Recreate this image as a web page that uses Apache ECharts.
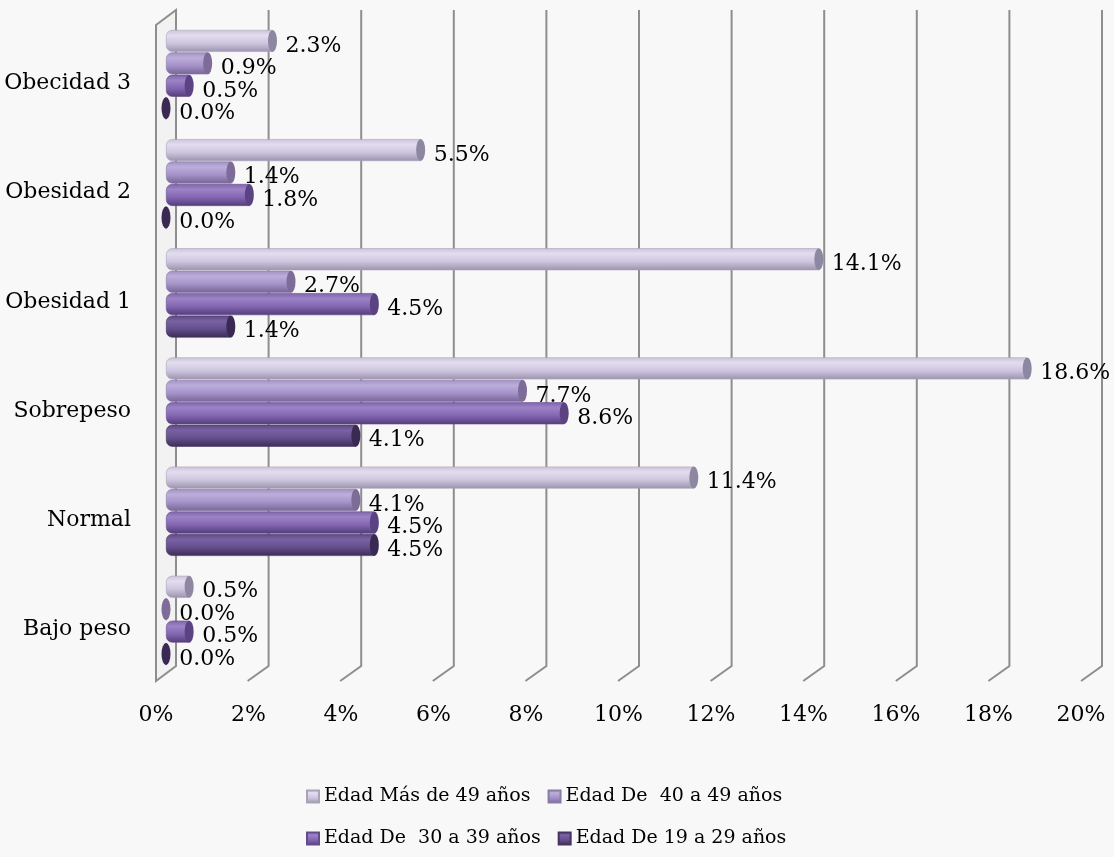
<!DOCTYPE html>
<html>
<head>
<meta charset="utf-8">
<script src="https://cdn.jsdelivr.net/npm/echarts@6/dist/echarts.min.js"></script>
<style>
html,body{margin:0;padding:0;background:#f8f8f8;}
#chart{width:1114px;height:857px;}
</style>
</head>
<body>
<div id="chart"></div>
<script>
const categories = ['Bajo peso', 'Normal', 'Sobrepeso', 'Obesidad 1', 'Obesidad 2', 'Obecidad 3'];
const seriesNames = ['Edad Más de 49 años', 'Edad De  40 a 49 años', 'Edad De  30 a 39 años', 'Edad De 19 a 29 años'];
const mas49 = [0.5, 11.4, 18.6, 14.1, 5.5, 2.3];
const de40a49 = [0.0, 4.1, 7.7, 2.7, 1.4, 0.9];
const de30a39 = [0.5, 4.5, 8.6, 4.5, 1.8, 0.5];
const de19a29 = [0.0, 4.5, 4.1, 1.4, 0.0, 0.0];
const xTicks = [0, 2, 4, 6, 8, 10, 12, 14, 16, 18, 20];

const values = [mas49, de40a49, de30a39, de19a29];
const FONT = 'DejaVu Serif';

function grad(stops) {
  return new echarts.graphic.LinearGradient(0, 0, 0, 1, stops.map((c, i) => ({offset: [0, 0.25, 0.6, 1][i], color: c})));
}
const barColors = [
  ['#cbc4da', '#e3ddef', '#cec5df', '#9b93ad'],
  ['#a090c1', '#bcaedb', '#a592c9', '#766596'],
  ['#8064ac', '#9c83c6', '#8466b3', '#533d79'],
  ['#5c4783', '#7962a2', '#654f8e', '#3b2c57']
];
const capColors = ['#8d87a1', '#7d6c98', '#5a4283', '#3a2a53'];
const edgeColors = ['#a9a3b8', '#8a7ca6', '#634c8a', '#45355f'];

const chart = echarts.init(document.getElementById('chart'), null, {renderer: 'canvas'});

const series = [];
// walls / gridlines
series.push({
  type: 'custom',
  xAxisIndex: 1, yAxisIndex: 1,
  z: 0,
  silent: true,
  clip: false,
  data: xTicks,
  renderItem: function (params, api) {
    const v = api.value(0);
    const top = api.coord([v, 1]);
    const bot = api.coord([v, 0]);
    const children = [];
    if (v === 0) {
      children.push({
        type: 'polygon',
        shape: {points: [[top[0] - 20, top[1] + 15], [top[0], top[1]], [bot[0], bot[1]], [bot[0] - 20, bot[1] + 15]]},
        style: {fill: 'rgba(0,0,0,0.025)', stroke: '#8e8e8e', lineWidth: 2}
      });
    } else {
      children.push({
        type: 'polyline',
        shape: {points: [[top[0], top[1]], [bot[0], bot[1]], [bot[0] - 21, bot[1] + 15]]},
        style: {stroke: '#8e8e8e', lineWidth: 2, fill: null}
      });
    }
    return {type: 'group', children: children};
  }
});

values.forEach((arr, i) => {
  series.push({
    type: 'bar',
    name: seriesNames[i],
    xAxisIndex: 0, yAxisIndex: 0,
    data: arr,
    barWidth: 22,
    barGap: '2%',
    barCategoryGap: '17%',
    z: 2,
    itemStyle: {color: grad(barColors[i]), borderRadius: [6, 0, 0, 6], borderColor: edgeColors[i], borderWidth: 0.6},
    label: {
      show: true,
      position: 'right',
      distance: 13,
      offset: [0, 5],
      formatter: p => p.value.toFixed(1) + '%',
      fontFamily: FONT,
      fontSize: 22,
      color: '#000'
    }
  });
});
values.forEach((arr, i) => {
  series.push({
    type: 'pictorialBar',
    name: 'cap' + i,
    xAxisIndex: 0, yAxisIndex: 0,
    data: arr,
    symbol: 'circle',
    symbolSize: [9, 22],
    symbolPosition: 'end',
    symbolOffset: ['50%', 0],
    barWidth: 22,
    barGap: '2%',
    barCategoryGap: '17%',
    z: 3,
    itemStyle: {color: capColors[i]}
  });
});

const option = {
  backgroundColor: '#f8f8f8',
  animation: false,
  grid: [
    {left: 166, width: 926, top: 20, height: 655},
    {left: 176, width: 926, top: 10, height: 656},
    {left: 156, width: 925, top: 10, height: 656}
  ],
  xAxis: [
    {gridIndex: 0, type: 'value', min: 0, max: 20, interval: 2, show: false},
    {gridIndex: 1, type: 'value', min: 0, max: 20, interval: 2, show: false},
    {gridIndex: 2, type: 'value', min: 0, max: 20, interval: 2,
      axisLine: {show: false}, axisTick: {show: false}, splitLine: {show: false},
      axisLabel: {formatter: '{value}%', margin: 38, fontFamily: FONT, fontSize: 22, color: '#000'}}
  ],
  yAxis: [
    {gridIndex: 0, type: 'category', data: categories,
      axisLine: {show: false}, axisTick: {show: false}, splitLine: {show: false},
      axisLabel: {margin: 35, color: '#000',
        formatter: v => '{a|' + v + '}',
        rich: {a: {fontFamily: FONT, fontSize: 22, color: '#000', padding: [18, 0, 0, 0]}}}},
    {gridIndex: 1, type: 'value', min: 0, max: 1, show: false},
    {gridIndex: 2, type: 'value', min: 0, max: 1, show: false}
  ],
  legend: [
    {data: seriesNames.slice(0, 2), left: 306, top: 787, padding: 0, itemGap: 17, itemWidth: 12, itemHeight: 12,
      icon: 'rect', textStyle: {fontFamily: FONT, fontSize: 19, color: '#000'}},
    {data: seriesNames.slice(2, 4), left: 306, top: 829, padding: 0, itemGap: 17, itemWidth: 12, itemHeight: 12,
      icon: 'rect', textStyle: {fontFamily: FONT, fontSize: 19, color: '#000'}}
  ],
  series: series
};
chart.setOption(option);
</script>
</body>
</html>
